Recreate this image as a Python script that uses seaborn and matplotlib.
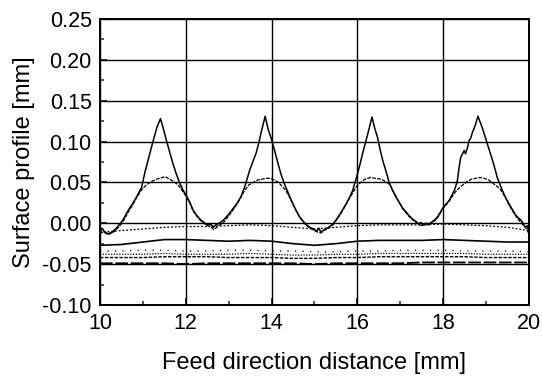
import matplotlib
matplotlib.use("Agg")
import matplotlib.pyplot as plt
import seaborn as sns
import pandas as pd
from matplotlib.ticker import MultipleLocator, FormatStrFormatter

# ---------------- data ----------------
tall_x = [10.00, 10.05, 10.10, 10.18, 10.28, 10.38, 10.48, 10.58, 10.66, 10.76, 10.85, 10.97,
          11.05, 11.12, 11.24, 11.33, 11.41, 11.48, 11.55, 11.62, 11.70, 11.78, 11.86, 11.94,
          12.02, 12.10, 12.17, 12.25, 12.33, 12.42, 12.50, 12.58, 12.64, 12.70, 12.78, 12.88,
          13.00, 13.10, 13.20, 13.28, 13.37, 13.49, 13.57, 13.64, 13.70, 13.76, 13.85, 13.92,
          13.99, 14.07, 14.15, 14.22, 14.30, 14.38, 14.46, 14.55, 14.65, 14.76, 14.88, 14.98,
          15.05, 15.10, 15.15, 15.22, 15.30, 15.43, 15.50, 15.58, 15.66, 15.74, 15.82, 15.89,
          16.00, 16.06, 16.12, 16.18, 16.24, 16.34, 16.40, 16.47, 16.53, 16.59, 16.67, 16.74,
          16.82, 16.90, 16.98, 17.05, 17.13, 17.21, 17.29, 17.37, 17.43, 17.48, 17.54, 17.60,
          17.66, 17.72, 17.80, 17.87, 17.93, 17.98, 18.06, 18.14, 18.20, 18.26, 18.33, 18.37,
          18.41, 18.45, 18.49, 18.52, 18.57, 18.60, 18.64, 18.68, 18.72, 18.76, 18.81, 18.86,
          18.91, 18.97, 19.03, 19.09, 19.15, 19.21, 19.26, 19.32, 19.38, 19.45, 19.53, 19.61,
          19.69, 19.76, 19.81, 19.86, 19.92, 19.96, 20.00]
tall_y = [-0.011, -0.006, -0.010, -0.013, -0.011, -0.006, 0.000, 0.008, 0.016, 0.024, 0.032, 0.044,
          0.063, 0.077, 0.101, 0.118, 0.128, 0.115, 0.101, 0.088, 0.073, 0.060, 0.049, 0.040,
          0.033, 0.025, 0.016, 0.010, 0.005, 0.001, -0.002, -0.001, -0.005, -0.002, 0.000, 0.004,
          0.011, 0.018, 0.025, 0.032, 0.044, 0.065, 0.076, 0.086, 0.098, 0.112, 0.131, 0.115,
          0.104, 0.089, 0.073, 0.060, 0.048, 0.038, 0.028, 0.018, 0.008, 0.001, -0.005, -0.007,
          -0.010, -0.006, -0.011, -0.008, -0.006, -0.001, 0.004, 0.010, 0.017, 0.024, 0.032, 0.040,
          0.060, 0.072, 0.085, 0.097, 0.109, 0.130, 0.117, 0.105, 0.090, 0.077, 0.063, 0.050,
          0.040, 0.032, 0.025, 0.019, 0.014, 0.009, 0.005, 0.002, -0.001, 0.001, -0.002, 0.000,
          -0.002, 0.001, 0.004, 0.008, 0.013, 0.018, 0.023, 0.028, 0.034, 0.040, 0.052, 0.068,
          0.081, 0.085, 0.089, 0.085, 0.093, 0.101, 0.104, 0.111, 0.116, 0.122, 0.131, 0.124,
          0.117, 0.107, 0.097, 0.087, 0.077, 0.066, 0.056, 0.048, 0.040, 0.032, 0.024, 0.017,
          0.010, 0.006, 0.004, 0.000, -0.005, -0.003, -0.010]

low_x = [10.00, 10.08, 10.18, 10.28, 10.38, 10.48, 10.58, 10.66, 10.76, 10.85, 10.97, 11.08,
         11.20, 11.32, 11.45, 11.52, 11.62, 11.72, 11.82, 11.93, 12.02, 12.10, 12.17, 12.25,
         12.33, 12.42, 12.50, 12.58, 12.65, 12.72, 12.80, 12.90, 13.00, 13.10, 13.20, 13.28,
         13.37, 13.47, 13.57, 13.68, 13.78, 13.88, 13.97, 14.06, 14.16, 14.25, 14.33, 14.41,
         14.50, 14.60, 14.70, 14.80, 14.90, 15.00, 15.08, 15.15, 15.22, 15.30, 15.43, 15.50,
         15.58, 15.66, 15.74, 15.82, 15.90, 15.98, 16.08, 16.18, 16.30, 16.42, 16.55, 16.66,
         16.76, 16.84, 16.92, 17.00, 17.05, 17.13, 17.21, 17.29, 17.37, 17.45, 17.54, 17.62,
         17.72, 17.80, 17.87, 17.93, 17.98, 18.06, 18.14, 18.20, 18.28, 18.37, 18.46, 18.56,
         18.66, 18.76, 18.86, 18.96, 19.06, 19.16, 19.26, 19.34, 19.40, 19.47, 19.55, 19.63,
         19.70, 19.78, 19.86, 19.93, 20.00]
low_y = [-0.013, -0.010, -0.014, -0.012, -0.008, -0.002, 0.006, 0.014, 0.022, 0.031, 0.041, 0.047,
         0.051, 0.054, 0.056, 0.057, 0.054, 0.051, 0.047, 0.039, 0.032, 0.024, 0.015, 0.009,
         0.004, 0.000, -0.003, -0.004, -0.008, -0.005, -0.002, 0.002, 0.009, 0.016, 0.024, 0.031,
         0.040, 0.047, 0.050, 0.053, 0.054, 0.055, 0.055, 0.053, 0.050, 0.045, 0.040, 0.033,
         0.023, 0.012, 0.004, -0.002, -0.006, -0.009, -0.011, -0.012, -0.009, -0.007, -0.002, 0.003,
         0.009, 0.016, 0.023, 0.031, 0.038, 0.045, 0.050, 0.054, 0.056, 0.055, 0.054, 0.051,
         0.047, 0.039, 0.031, 0.023, 0.018, 0.013, 0.008, 0.004, 0.001, -0.002, -0.003, -0.001,
         0.000, 0.003, 0.007, 0.012, 0.017, 0.022, 0.027, 0.032, 0.038, 0.043, 0.047, 0.051,
         0.054, 0.055, 0.056, 0.055, 0.053, 0.049, 0.045, 0.041, 0.036, 0.029, 0.021, 0.014,
         0.008, 0.003, -0.002, -0.006, -0.013]

flat_x = [10.0, 10.5, 11.0, 11.5, 12.0, 12.5, 13.0, 13.5, 14.0, 14.5, 15.0,
          15.5, 16.0, 16.5, 17.0, 17.5, 18.0, 18.5, 19.0, 19.5, 20.0]
near_zero_y = [-0.011, -0.009, -0.007, -0.005, -0.004, -0.004, -0.003, -0.002, -0.003, -0.005, -0.007,
               -0.005, -0.003, -0.002, -0.002, -0.002, -0.001, -0.002, -0.003, -0.005, -0.009]
solid_mid_y = [-0.027, -0.026, -0.023, -0.020, -0.020, -0.021, -0.022, -0.021, -0.022, -0.025, -0.027,
               -0.025, -0.022, -0.021, -0.021, -0.021, -0.020, -0.021, -0.022, -0.023, -0.023]
sparse_y = [-0.034, -0.034, -0.033, -0.033, -0.034, -0.034, -0.033, -0.033, -0.034, -0.034, -0.035,
            -0.035, -0.034, -0.034, -0.033, -0.033, -0.033, -0.034, -0.034, -0.034, -0.035]
dotted_y = [-0.038, -0.038, -0.038, -0.037, -0.038, -0.038, -0.038, -0.037, -0.038, -0.039, -0.039,
            -0.038, -0.038, -0.037, -0.037, -0.037, -0.037, -0.037, -0.038, -0.038, -0.038]
dashed_y = [-0.042, -0.042, -0.042, -0.041, -0.041, -0.041, -0.042, -0.042, -0.042, -0.043, -0.043,
            -0.042, -0.042, -0.041, -0.041, -0.041, -0.041, -0.041, -0.042, -0.042, -0.042]
bottom_y = [-0.049, -0.049, -0.049, -0.049, -0.050, -0.049, -0.049, -0.049, -0.049, -0.049, -0.050,
            -0.049, -0.049, -0.049, -0.049, -0.048, -0.048, -0.048, -0.048, -0.048, -0.048]

x_ticks = [10, 12, 14, 16, 18, 20]
y_ticks = [-0.10, -0.05, 0.00, 0.05, 0.10, 0.15, 0.20, 0.25]

# ---------------- plot ----------------
sns.set_theme(style="ticks")
plt.rcParams["font.family"] = ["Liberation Sans", "DejaVu Sans"]
plt.rcParams["axes.unicode_minus"] = False
plt.rcParams["axes.labelcolor"] = "black"
plt.rcParams["text.color"] = "black"

fig = plt.figure(figsize=(5.42, 3.76), dpi=100)
ax = fig.add_axes([0.1845, 0.189, 0.7915, 0.7605])

def draw(xs, ys, ls, lw):
    sns.lineplot(x=xs, y=ys, ax=ax, color="black", linestyle=ls, linewidth=lw,
                 estimator=None, sort=False, legend=False)

draw(flat_x, bottom_y, (0, (7, 1.5)), 1.3)
draw(flat_x, dashed_y, (0, (2.5, 1)), 1.0)
draw(flat_x, dotted_y, (0, (1, 1.2)), 0.9)
draw(flat_x, sparse_y, (0, (1, 5)), 0.9)
draw(flat_x, solid_mid_y, "-", 1.2)
draw(flat_x, near_zero_y, (0, (1.5, 1.5)), 0.9)
draw(low_x, low_y, (0, (3, 1)), 0.9)
draw(tall_x, tall_y, "-", 1.1)

ax.set_xlim(10, 20)
ax.set_ylim(-0.10, 0.25)
ax.set_xticks(x_ticks)
ax.set_yticks(y_ticks)
ax.yaxis.set_major_formatter(FormatStrFormatter("%.2f"))
ax.xaxis.set_minor_locator(MultipleLocator(1))
ax.yaxis.set_minor_locator(MultipleLocator(0.025))
ax.grid(True, which="major", color="black", linewidth=1.0)
ax.tick_params(which="major", direction="in", length=5, width=1.1, labelsize=15.5,
               colors="black", pad=6)
ax.tick_params(which="minor", direction="in", length=3, width=1.1)
for s in ax.spines.values():
    s.set_color("black")
    s.set_linewidth(1.4)

ax.set_xlabel("Feed direction distance [mm]", fontsize=17, labelpad=13, color="black")
ax.set_ylabel("Surface profile [mm]", fontsize=17, labelpad=5, color="black")

fig.savefig("out.png", dpi=100)
